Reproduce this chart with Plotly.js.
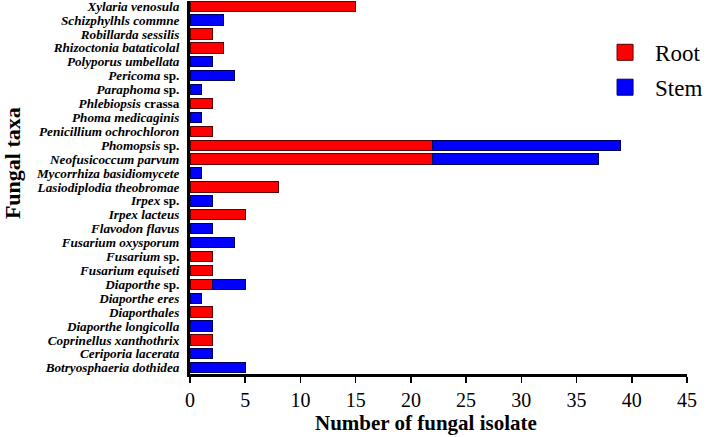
<!DOCTYPE html>
<html>
<head>
<meta charset="utf-8">
<script src="https://cdn.plot.ly/plotly-3.0.1.min.js"></script>
<style>html,body{margin:0;padding:0;background:#fff;}#chart{width:709px;height:437px;}</style>
</head>
<body>
<div id="chart"></div>
<script>
// Categories, top to bottom
const taxa = [
  "Xylaria venosula","Schizphylhls commne","Robillarda sessilis","Rhizoctonia bataticolal",
  "Polyporus umbellata","Pericoma sp.","Paraphoma sp.","Phlebiopsis crassa",
  "Phoma medicaginis","Penicillium ochrochloron","Phomopsis sp.","Neofusicoccum parvum",
  "Mycorrhiza basidiomycete","Lasiodiplodia theobromae","Irpex sp.","Irpex lacteus",
  "Flavodon flavus","Fusarium oxysporum","Fusarium sp.","Fusarium equiseti",
  "Diaporthe sp.","Diaporthe eres","Diaporthales","Diaporthe longicolla",
  "Coprinellus xanthothrix","Ceriporia lacerata","Botryosphaeria dothidea"
];
// Formatted tick labels (italic genus/species, roman "sp." / "crassa")
const taxaLabels = [
  "<i>Xylaria venosula</i>","<i>Schizphylhls commne</i>","<i>Robillarda sessilis</i>","<i>Rhizoctonia bataticolal</i>",
  "<i>Polyporus umbellata</i>","<i>Pericoma</i> sp.","<i>Paraphoma</i> sp.","<i>Phlebiopsis</i> crassa",
  "<i>Phoma medicaginis</i>","<i>Penicillium ochrochloron</i>","<i>Phomopsis</i> sp.","<i>Neofusicoccum parvum</i>",
  "<i>Mycorrhiza basidiomycete</i>","<i>Lasiodiplodia theobromae</i>","<i>Irpex</i> sp.","<i>Irpex lacteus</i>",
  "<i>Flavodon flavus</i>","<i>Fusarium oxysporum</i>","<i>Fusarium</i> sp.","<i>Fusarium equiseti</i>",
  "<i>Diaporthe</i> sp.","<i>Diaporthe eres</i>","<i>Diaporthales</i>","<i>Diaporthe longicolla</i>",
  "<i>Coprinellus xanthothrix</i>","<i>Ceriporia lacerata</i>","<i>Botryosphaeria dothidea</i>"
];
const rootValues = [15,null,2,3,null,null,null,2,null,2,22,22,null,8,null,5,null,null,2,2,2,null,2,null,2,null,null];
const stemValues = [null,3,null,null,2,4,1,null,1,null,17,15,1,null,2,null,2,4,null,null,3,1,null,2,null,2,5];
const xTicks = [0,5,10,15,20,25,30,35,40,45];
const seriesNames = ["Root","Stem"];

const serif = "Liberation Serif, serif";
const colors = ["#ff0000","#0000ff"];
const edges = ["#5a0000","#00005a"];

const traces = [
  {type:"bar", orientation:"h", y:taxa, x:rootValues, name:seriesNames[0], showlegend:false,
   marker:{color:colors[0], line:{color:edges[0], width:1}}, width:0.74},
  {type:"bar", orientation:"h", y:taxa, x:stemValues, name:seriesNames[1], showlegend:false,
   marker:{color:colors[1], line:{color:edges[1], width:1}}, width:0.74},
  // legend entries with large square symbols
  {type:"scatter", mode:"markers", x:[null], y:[null], name:seriesNames[0], legendgroup:"a",
   marker:{symbol:"square", size:19, color:colors[0], line:{color:edges[0], width:1}}},
  {type:"scatter", mode:"markers", x:[null], y:[null], name:seriesNames[1], legendgroup:"b",
   marker:{symbol:"square", size:19, color:colors[1], line:{color:edges[1], width:1}}}
];

const layout = {
  width:709, height:437,
  margin:{l:190, r:19, t:1, b:63},
  barmode:"stack",
  paper_bgcolor:"#fff", plot_bgcolor:"#fff",
  font:{family:serif, color:"#000"},
  xaxis:{
    range:[0,45], tickmode:"array", tickvals:xTicks, ticktext:xTicks.map(String),
    showgrid:false, zeroline:false, showline:true, linecolor:"#000", linewidth:3,
    ticks:"outside", ticklen:6, tickwidth:1.5, tickcolor:"#000",
    tickfont:{family:serif, size:20, color:"#000"}
  },
  yaxis:{
    type:"category", range:[26.45,-0.37], tickmode:"array", tickvals:taxa, ticktext:taxaLabels,
    showgrid:false, zeroline:false, showline:true, linecolor:"#000", linewidth:3,
    ticks:"", ticklabelstandoff:5,
    tickfont:{family:serif, size:13.2, color:"#000", weight:"bold"}
  },
  legend:{x:0.815, y:0.92, xanchor:"left", yanchor:"top", bgcolor:"rgba(0,0,0,0)",
    font:{family:serif, size:23, color:"#000"}, itemwidth:50, tracegroupgap:2},
  annotations:[
    {text:"<b>Number of fungal isolate</b>", xref:"paper", yref:"paper", x:(427-190)/500, y:(436-63-422)/373,
     xanchor:"center", yanchor:"middle", showarrow:false, font:{family:serif, size:21, color:"#000"}},
    {text:"<b>Fungal taxa</b>", xref:"paper", yref:"paper", x:(12-190)/500, y:(374-163)/373,
     xanchor:"center", yanchor:"middle", textangle:-90, showarrow:false, font:{family:serif, size:22, color:"#000"}}
  ]
};

Plotly.newPlot("chart", traces, layout, {displayModeBar:false, staticPlot:true});
</script>
</body>
</html>
